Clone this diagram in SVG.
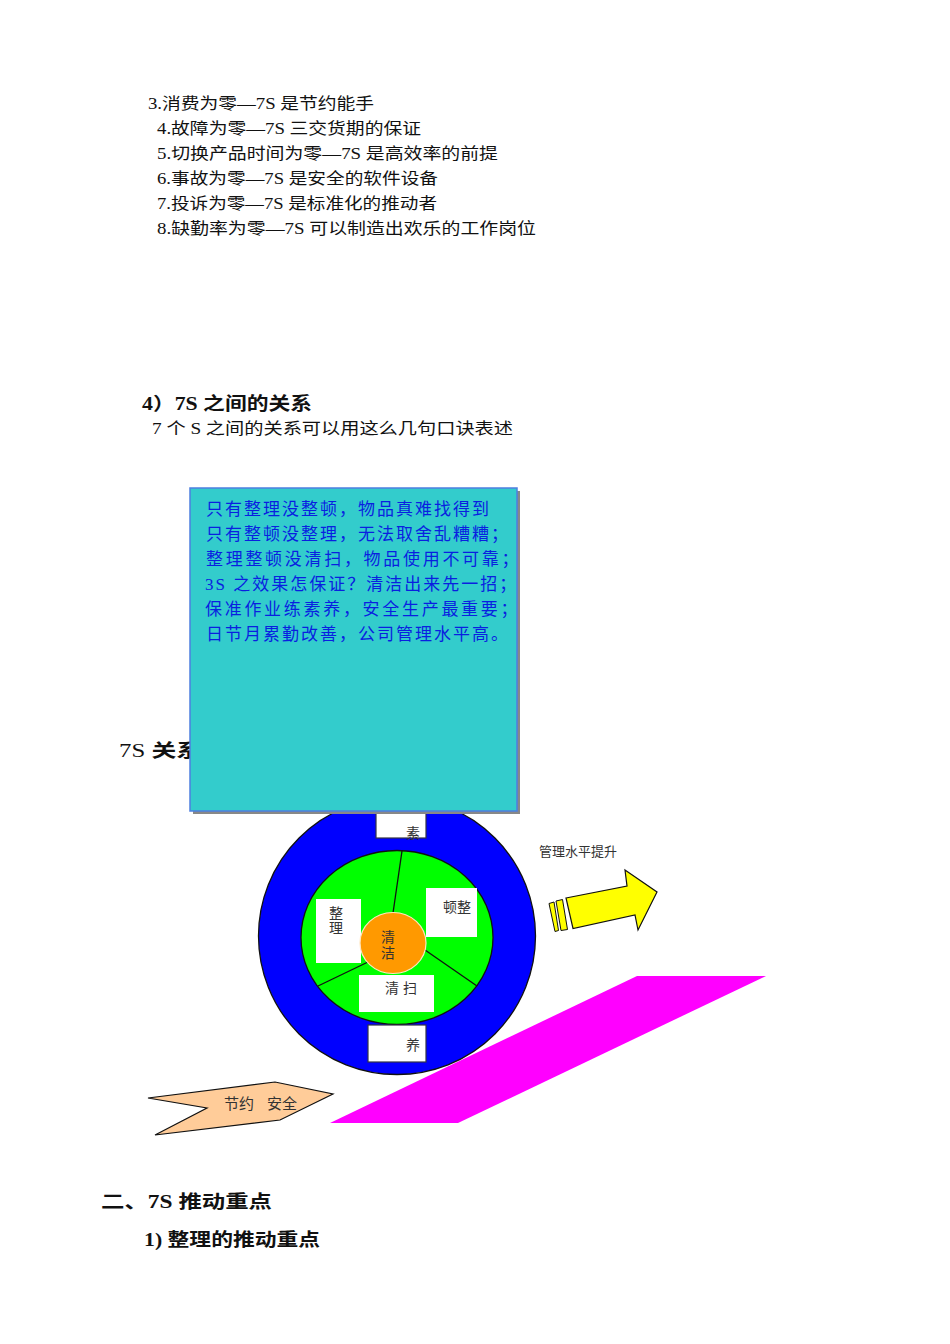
<svg xmlns="http://www.w3.org/2000/svg" width="950" height="1344" viewBox="0 0 950 1344">
<defs>
<style>
.body{font-family:"Liberation Serif","Noto Sans CJK SC",serif;font-size:16px;fill:#111}
.head{font-family:"Liberation Serif","Noto Sans CJK SC",serif;font-size:18px;font-weight:bold;fill:#111}
.poem{font-family:"Liberation Serif","Noto Sans CJK SC",serif;font-size:17px;fill:#0a1fe0}
.lbl{font-family:"Liberation Sans","Noto Sans CJK SC",sans-serif;font-size:14px;fill:#333}
.box{fill:#fff}
.boxb{fill:#fff;stroke:#334;stroke-width:1.2}
.spoke{stroke:#111;stroke-width:1.3;fill:none}
</style>
</defs>
<rect width="950" height="1344" fill="#fff"/>

<g id="list">
<text class="body" x="148" y="109" textLength="226" lengthAdjust="spacingAndGlyphs">3.消费为零—7S 是节约能手</text>
<text class="body" x="157" y="134" textLength="264" lengthAdjust="spacingAndGlyphs">4.故障为零—7S 三交货期的保证</text>
<text class="body" x="157" y="159" textLength="341" lengthAdjust="spacingAndGlyphs">5.切换产品时间为零—7S 是高效率的前提</text>
<text class="body" x="157" y="184" textLength="281" lengthAdjust="spacingAndGlyphs">6.事故为零—7S 是安全的软件设备</text>
<text class="body" x="157" y="209" textLength="280" lengthAdjust="spacingAndGlyphs">7.投诉为零—7S 是标准化的推动者</text>
<text class="body" x="157" y="234" textLength="379" lengthAdjust="spacingAndGlyphs">8.缺勤率为零—7S 可以制造出欢乐的工作岗位</text>
</g>

<g id="section4">
<text class="head" x="142" y="410" textLength="170" lengthAdjust="spacingAndGlyphs">4）7S 之间的关系</text>
<text class="body" x="152" y="434" textLength="361" lengthAdjust="spacingAndGlyphs">7 个 S 之间的关系可以用这么几句口诀表述</text>
</g>

<g id="label-7s">
<text class="head" x="119" y="757" textLength="82" lengthAdjust="spacingAndGlyphs"><tspan font-weight="normal">7S </tspan>关系</text>
</g>

<g id="base-plane">
<polygon points="330,1123 458,1123 766,976 637,976" fill="#ff00ff"/>
</g>

<g id="wheel">
<circle cx="397" cy="936" r="138.5" fill="#0000ff" stroke="#111" stroke-width="1.3"/>
<ellipse cx="397" cy="937.5" rx="96" ry="87" fill="#00ff00" stroke="#111" stroke-width="1.3"/>
</g>

<g id="connectors">
<line class="spoke" x1="393" y1="913" x2="402" y2="851"/>
<line class="spoke" x1="425" y1="950" x2="477" y2="986"/>
<line class="spoke" x1="368" y1="962" x2="318" y2="986"/>
</g>

<g id="node-su">
<rect class="boxb" x="376" y="806" width="50" height="32"/>
<text class="lbl" x="413" y="838" text-anchor="middle">素</text>
</g>
<g id="node-zhengli">
<rect class="box" x="316" y="899" width="45" height="64"/>
<text class="lbl" x="336" y="918" text-anchor="middle">整</text>
<text class="lbl" x="336" y="933" text-anchor="middle">理</text>
</g>
<g id="node-dunzheng">
<rect class="box" x="426" y="888" width="51" height="49"/>
<text class="lbl" x="457" y="912" text-anchor="middle">顿整</text>
</g>
<g id="node-qingsao">
<rect class="box" x="359" y="975" width="75" height="37"/>
<text class="lbl" x="401" y="993" text-anchor="middle">清 扫</text>
</g>
<g id="node-yang">
<rect class="boxb" x="368" y="1025" width="58" height="37"/>
<text class="lbl" x="413" y="1050" text-anchor="middle">养</text>
</g>
<g id="node-qingjie">
<ellipse cx="393" cy="943" rx="33" ry="30.5" fill="#ff9900" stroke="#ffe6c0" stroke-width="1.2"/>
<text class="lbl" x="388" y="942" text-anchor="middle" fill="#444">清</text>
<text class="lbl" x="388" y="958" text-anchor="middle" fill="#444">洁</text>
</g>

<g id="node-arrow">
<text class="lbl" x="539" y="856" style="font-size:13px">管理水平提升</text>
<polygon points="549,903.5 554,902 558.5,930.5 555,931.5" fill="#ffff00" stroke="#111" stroke-width="1"/>
<polygon points="556,901 562.5,899.5 567.5,929.5 561,930.5" fill="#ffff00" stroke="#111" stroke-width="1"/>
<polygon points="566,898 627,886 625,870 657,892 638,930 635,915 573,928.5" fill="#ffff00" stroke="#111" stroke-width="1.2"/>
</g>

<g id="node-saving">
<polygon points="148,1098 275,1082 333,1094 280,1120 155,1135 207,1108" fill="#ffcc99" stroke="#111" stroke-width="1.2"/>
<text class="lbl" y="1109" style="font-size:15px"><tspan x="224">节约</tspan><tspan x="267">安全</tspan></text>
</g>

<g id="node-poem">
<rect x="193" y="491" width="327" height="323" fill="#888"/>
<rect x="190" y="488" width="327" height="323" fill="#33cccc" stroke="#4d7fe0" stroke-width="1.5"/>
<text class="poem" x="206" y="515" letter-spacing="2">只有整理没整顿，物品真难找得到</text>
<text class="poem" x="206" y="540" letter-spacing="2">只有整顿没整理，无法取舍乱糟糟；</text>
<text class="poem" x="206" y="565" letter-spacing="2.7">整理整顿没清扫，物品使用不可靠；</text>
<text class="poem" x="205" y="590" letter-spacing="2">3S 之效果怎保证？清洁出来先一招；</text>
<text class="poem" x="205" y="615" letter-spacing="2.7">保准作业练素养，安全生产最重要；</text>
<text class="poem" x="206" y="640" letter-spacing="2">日节月累勤改善，公司管理水平高。</text>
</g>

<g id="section2">
<text class="head" x="101" y="1208" textLength="171" lengthAdjust="spacingAndGlyphs">二、7S 推动重点</text>
<text class="head" x="144" y="1246" textLength="176" lengthAdjust="spacingAndGlyphs">1) 整理的推动重点</text>
</g>
</svg>
